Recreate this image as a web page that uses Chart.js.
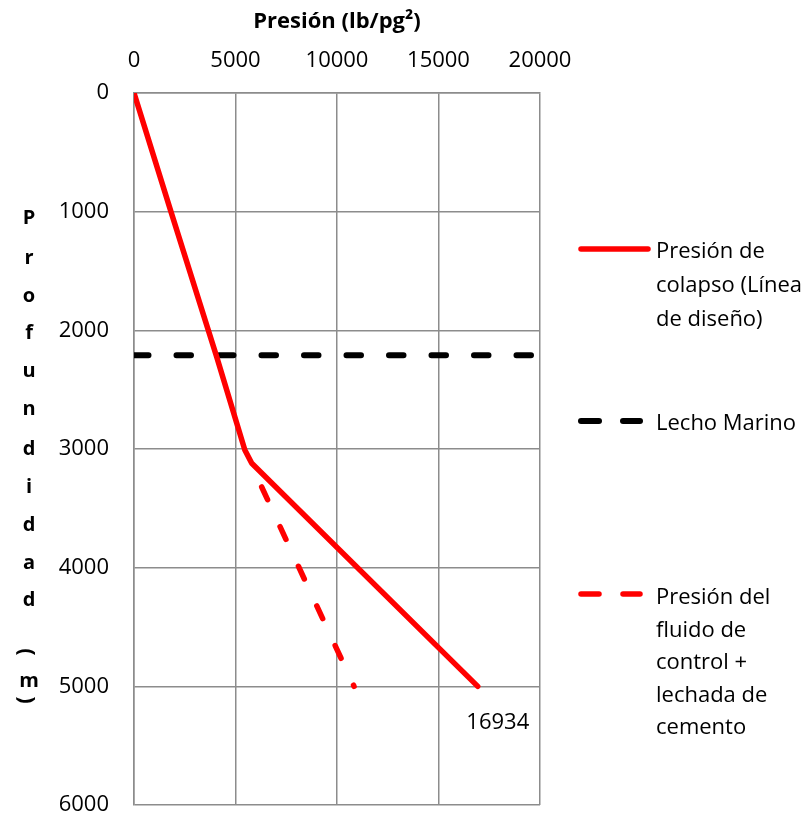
<!DOCTYPE html>
<html>
<head>
<meta charset="utf-8">
<script src="https://cdn.jsdelivr.net/npm/chart.js@4/dist/chart.umd.min.js"></script>
<style>
  html, body { margin: 0; padding: 0; background: #fff; overflow: hidden; }
  #wrap { position: relative; width: 812px; height: 817px; overflow: hidden; font-family: "Open Sans", sans-serif; }
  #chart { position: absolute; left: 0; top: 0; }
  .leg { position: absolute; font-size: 22px; color: #000; white-space: nowrap; }
  #overlay { position: absolute; left: 0; top: 0; }
</style>
</head>
<body>
<div id="wrap">
  <canvas id="chart" width="812" height="817"></canvas>
  <svg id="overlay" width="812" height="817"></svg>
  <div id="legend"></div>
</div>
<script>
// ---- data ----
const pressureTickLabels = [0, 5000, 10000, 15000, 20000];
const depthTickLabels = [0, 1000, 2000, 3000, 4000, 5000, 6000];

const seriesNames = [
  ["Presión de", "colapso (Línea", "de diseño)"],
  ["Lecho Marino"],
  ["Presión del", "fluido de", "control +", "lechada de", "cemento"]
];

const colapsoPresion = [0, 1820, 4070, 5460, 5800, 16934];
const colapsoProf    = [0, 1000, 2222, 3008, 3120, 5000];

const lechoPresion = [0, 20000];
const lechoProf    = [2210, 2210];

const fluidoPresion = [6290, 10840];
const fluidoProf    = [3320, 5000];

const etiquetaFinal = "16934";
const yTitle = "Profundidad (m)";
const xTitle = "Presión (lb/pg²)";

function pts(xs, ys) { return xs.map((x, i) => ({ x: x, y: ys[i] })); }

const FONT = "'Open Sans', sans-serif";
const GRID = "#8c8c8c";

const labelPlugin = {
  id: 'endLabel',
  afterDatasetsDraw(chart) {
    const meta = chart.getDatasetMeta(0);
    const p = meta.data[meta.data.length - 1];
    const ctx = chart.ctx;
    ctx.save();
    ctx.font = "22px " + FONT;
    ctx.fillStyle = "#000";
    ctx.textAlign = "center";
    ctx.textBaseline = "middle";
    ctx.fillText(etiquetaFinal, p.x + 20, p.y + 36);
    ctx.restore();
  }
};

new Chart(document.getElementById('chart'), {
  type: 'scatter',
  data: {
    datasets: [
      {
        label: seriesNames[0].join(' '),
        data: pts(colapsoPresion, colapsoProf),
        showLine: true, borderColor: '#ff0000', borderWidth: 5.5,
        borderCapStyle: 'round', borderJoinStyle: 'round',
        pointRadius: 0, tension: 0
      },
      {
        label: seriesNames[1].join(' '),
        data: pts(lechoPresion, lechoProf),
        showLine: true, borderColor: '#000000', borderWidth: 6,
        borderDash: [14.5, 28], borderCapStyle: 'round',
        pointRadius: 0
      },
      {
        label: seriesNames[2].join(' '),
        data: pts(fluidoPresion, fluidoProf),
        showLine: true, borderColor: '#ff0000', borderWidth: 5.5,
        borderDash: [14, 29.7], borderCapStyle: 'round',
        pointRadius: 0
      }
    ]
  },
  options: {
    responsive: false,
    animation: false,
    layout: { padding: { left: 0, top: 0, right: 272, bottom: 12 } },
    plugins: { legend: { display: false }, tooltip: { enabled: false } },
    scales: {
      x: {
        type: 'linear', position: 'top', min: 0, max: 20000,
        afterBuildTicks: (s) => { s.ticks = pressureTickLabels.map(v => ({ value: v })); },
        afterFit: (s) => { s.height = 93; s.paddingLeft = 0; s.paddingRight = 0; },
        ticks: { color: '#000', font: { family: FONT, size: 22 }, padding: 19, maxRotation: 0, callback: (v) => String(v) },
        grid: { color: GRID, lineWidth: 1.5, drawTicks: false },
        border: { color: GRID, width: 1.5 },
        title: { display: true, text: xTitle, color: '#000', font: { family: FONT, size: 22, weight: 'bold' }, padding: { top: 9, bottom: 0 } }
      },
      y: {
        type: 'linear', reverse: true, min: 0, max: 6000,
        afterBuildTicks: (s) => { s.ticks = depthTickLabels.map(v => ({ value: v })); },
        afterFit: (s) => { s.width = 134; s.paddingTop = 0; s.paddingBottom = 0; },
        ticks: { color: '#000', font: { family: FONT, size: 22 }, padding: 25, callback: (v) => String(v) },
        grid: { color: GRID, lineWidth: 1.5, drawTicks: false },
        border: { color: GRID, width: 1.5 },
        title: { display: false }
      }
    }
  },
  plugins: [labelPlugin]
});

const svg = document.getElementById('overlay');
const NS = 'http://www.w3.org/2000/svg';

// ---- vertical stacked y title ----
(function () {
  const chars = yTitle.split('');
  const tops = [216, 256, 294, 331, 369, 407, 447, 485, 523, 561, 598, null, 652, 679, 700];
  chars.forEach((c, i) => {
    if (c === ' ') return;
    const isParen = (c === '(' || c === ')');
    const t = document.createElementNS(NS, 'text');
    t.textContent = c;
    t.setAttribute('x', 29);
    t.setAttribute('y', tops[i]);
    t.setAttribute('text-anchor', 'middle');
    t.setAttribute('dominant-baseline', 'central');
    t.setAttribute('font-family', FONT);
    t.setAttribute('font-weight', 'bold');
    t.setAttribute('font-size', isParen ? 22 : 20);
    if (isParen) t.setAttribute('transform', 'rotate(90 29 ' + tops[i] + ')');
    svg.appendChild(t);
  });
})();

// ---- legend ----
(function () {
  function line(x1, x2, y, col, w) {
    const l = document.createElementNS(NS, 'line');
    l.setAttribute('x1', x1); l.setAttribute('x2', x2);
    l.setAttribute('y1', y); l.setAttribute('y2', y);
    l.setAttribute('stroke', col); l.setAttribute('stroke-width', w);
    l.setAttribute('stroke-linecap', 'round');
    svg.appendChild(l);
  }
  line(581, 648, 249, '#ff0000', 5.5);
  line(581, 599, 421, '#000000', 6); line(623, 640, 421, '#000000', 6);
  line(581, 599, 594, '#ff0000', 5.5); line(623, 640, 594, '#ff0000', 5.5);

  const leg = document.getElementById('legend');
  const items = [
    { y: 249, lh: 34, lines: seriesNames[0] },
    { y: 421, lh: 34, lines: seriesNames[1] },
    { y: 595, lh: 32.5, lines: seriesNames[2] }
  ];
  items.forEach(it => {
    it.lines.forEach((t, i) => {
      const d = document.createElement('div');
      d.className = 'leg';
      d.textContent = t;
      d.style.left = '656px';
      d.style.top = (it.y + i * it.lh - 16) + 'px';
      d.style.lineHeight = '32px';
      leg.appendChild(d);
    });
  });
})();
</script>
</body>
</html>
